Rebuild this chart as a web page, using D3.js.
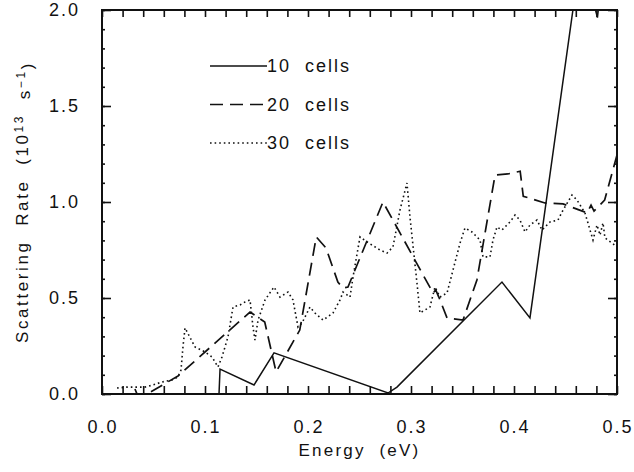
<!DOCTYPE html>
<html>
<head>
<meta charset="utf-8">
<script src="https://cdn.jsdelivr.net/npm/d3@7"></script>
<style>
  body { margin: 0; background: #fff; }
  text { font-family: "Liberation Sans", Arial, sans-serif; fill: #111; }
</style>
</head>
<body>
<div id="chart"></div>
<script>
// energy (eV) / scattering rate (10^13 s^-1)
var cells10E = [0.1136, 0.1146, 0.1476, 0.167, 0.2777, 0.2864, 0.3883, 0.4155, 0.465, 0.481, 0.49, 0.5];
var cells10R = [0, 0.13, 0.047, 0.214, 0.005, 0.036, 0.583, 0.396, 2.3, 1.96, 2.4, 2.6];

var cells20E = [0.032, 0.034, 0.0437, 0.0738, 0.1437, 0.158, 0.169, 0.192, 0.208, 0.2175, 0.229, 0.234, 0.2388,
    0.2728, 0.3214, 0.324, 0.327, 0.335, 0.3505, 0.364, 0.3816, 0.394, 0.406, 0.409, 0.43, 0.4476,
    0.471, 0.4748, 0.4777, 0.488, 0.5];
var cells20R = [0.026, 0, 0, 0.094, 0.427, 0.375, 0.115, 0.333, 0.818, 0.76, 0.583, 0.552, 0.557,
    1.0, 0.526, 0.542, 0.505, 0.396, 0.385, 0.594, 1.14, 1.146, 1.16, 1.03, 0.995, 0.99,
    0.943, 0.984, 0.953, 1.01, 1.245];

var cells30E = [0.0146, 0.0243, 0.0417, 0.0495, 0.0583, 0.068, 0.0738, 0.0767, 0.0786, 0.0806, 0.0903, 0.1,
    0.1068, 0.1126, 0.1165, 0.1223, 0.1272, 0.134, 0.1388, 0.1437, 0.1466, 0.1485, 0.1515, 0.1583,
    0.167, 0.1728, 0.1806, 0.1854, 0.1903, 0.1942, 0.2019, 0.2068, 0.2146, 0.2243, 0.2311, 0.234,
    0.2408, 0.2437, 0.2505, 0.2573, 0.2699, 0.2767, 0.2825, 0.2893, 0.2961, 0.299, 0.3058, 0.3087,
    0.3184, 0.3233, 0.3282, 0.335, 0.3408, 0.3476, 0.3524, 0.3592, 0.367, 0.3699, 0.3767, 0.3796,
    0.3835, 0.3883, 0.3961, 0.401, 0.4058, 0.4107, 0.4155, 0.4223, 0.4272, 0.435, 0.4427, 0.4476,
    0.4563, 0.4612, 0.4689, 0.4767, 0.4806, 0.4835, 0.4864, 0.4883, 0.4951, 0.5];
var cells30R = [0.031, 0.036, 0.036, 0.047, 0.0625, 0.073, 0.089, 0.125, 0.245, 0.344, 0.245, 0.219,
    0.193, 0.141, 0.193, 0.297, 0.453, 0.464, 0.479, 0.49, 0.349, 0.281, 0.385, 0.49,
    0.557, 0.505, 0.531, 0.49, 0.349, 0.37, 0.453, 0.422, 0.385, 0.422, 0.49, 0.531,
    0.505, 0.609, 0.818, 0.792, 0.75, 0.734, 0.766, 0.958, 1.099, 0.922, 0.578, 0.422,
    0.453, 0.557, 0.505, 0.526, 0.646, 0.786, 0.865, 0.844, 0.802, 0.714, 0.714, 0.802,
    0.87, 0.854, 0.896, 0.932, 0.906, 0.844, 0.88, 0.906, 0.854, 0.896, 0.906, 0.958,
    1.036, 1.01, 0.943, 0.802, 0.88, 0.828, 0.891, 0.813, 0.786, 0.766];

var seriesNames = ["10  cells", "20  cells", "30  cells"];
var xTickLabels = ["0.0", "0.1", "0.2", "0.3", "0.4", "0.5"];
var yTickLabels = ["0.0", "0.5", "1.0", "1.5", "2.0"];

var margin = { top: 10, right: 17, bottom: 78, left: 102 },
    width = 634 - margin.left - margin.right,
    height = 472 - margin.top - margin.bottom;

var svg = d3.select("#chart")
    .append("svg")
    .attr("width", 634)
    .attr("height", 472)
    .append("g")
    .attr("transform", "translate(" + margin.left + "," + margin.top + ")");

var x = d3.scaleLinear().domain([0, 0.5]).range([0, width]);
var y = d3.scaleLinear().domain([0, 2]).range([height, 0]);

svg.append("clipPath").attr("id", "clip")
    .append("rect").attr("width", width).attr("height", height);

function zip(es, rs) {
    return es.map(function(e, i) { return { e: e, r: rs[i] }; });
}

var line = d3.line()
    .x(function(d) { return x(d.e); })
    .y(function(d) { return y(d.r); });

var styles = [
    { dash: null, w: 1.5 },
    { dash: "13,7", w: 1.7 },
    { dash: "1.6,3", w: 1.6 }
];
var series = [zip(cells10E, cells10R), zip(cells20E, cells20R), zip(cells30E, cells30R)];

series.forEach(function(s, i) {
    svg.append("path")
        .datum(s)
        .attr("clip-path", "url(#clip)")
        .attr("fill", "none")
        .attr("stroke", "#111")
        .attr("stroke-width", styles[i].w)
        .attr("stroke-dasharray", styles[i].dash)
        .attr("d", line);
});

// ticks, inward on all four sides
var xMinor = d3.range(0, 0.5001, 0.02);
var yMinor = d3.range(0, 2.0001, 0.1);
var yMajor = d3.range(0, 2.0001, 0.5);

function tickAxis(axisFn, scale, vals, size) {
    return axisFn(scale).tickValues(vals).tickSize(size).tickFormat("");
}

svg.append("g").attr("transform", "translate(0," + height + ")")
    .call(tickAxis(d3.axisTop, x, xMinor, 8));
svg.append("g")
    .call(tickAxis(d3.axisBottom, x, xMinor, 7));
svg.append("g").call(tickAxis(d3.axisRight, y, yMinor, 3));
svg.append("g").call(tickAxis(d3.axisRight, y, yMajor, 9));
svg.append("g").attr("transform", "translate(" + width + ",0)")
    .call(tickAxis(d3.axisLeft, y, yMinor, 3));
svg.append("g").attr("transform", "translate(" + width + ",0)")
    .call(tickAxis(d3.axisLeft, y, yMajor, 9));
svg.selectAll(".domain").remove();
svg.selectAll(".tick line").attr("stroke", "#111").attr("stroke-width", 1.6);

// frame
svg.append("rect")
    .attr("width", width).attr("height", height)
    .attr("fill", "none").attr("stroke", "#111").attr("stroke-width", 2);

// tick labels
svg.selectAll(".xlab").data(xTickLabels).enter().append("text")
    .attr("x", function(d) { return x(+d) + 1; })
    .attr("y", height + 39)
    .attr("text-anchor", "middle")
    .style("font-size", "18px")
    .style("letter-spacing", "2px")
    .text(function(d) { return d; });

svg.selectAll(".ylab").data(yTickLabels).enter().append("text")
    .attr("x", -22)
    .attr("y", function(d) { return y(+d); })
    .attr("dy", "0.36em")
    .attr("text-anchor", "end")
    .style("font-size", "18px")
    .style("letter-spacing", "2px")
    .text(function(d) { return d; });

// axis titles
svg.append("text")
    .attr("x", width / 2)
    .attr("y", height + 62)
    .attr("text-anchor", "middle")
    .style("font-size", "17px")
    .style("letter-spacing", "2.2px")
    .style("white-space", "pre")
    .text("Energy  (eV)");

var yt = svg.append("text")
    .attr("transform", "translate(-74," + (height / 2) + ") rotate(-90)")
    .attr("text-anchor", "middle")
    .style("font-size", "17px")
    .style("letter-spacing", "2.6px")
    .style("white-space", "pre");
yt.append("tspan").text("Scattering  Rate  (10");
yt.append("tspan").attr("dy", "-0.45em").style("font-size", "12px").text("13");
yt.append("tspan").attr("dy", "0.45em").text("  s");
yt.append("tspan").attr("dy", "-0.45em").style("font-size", "12px").text("\u22121");
yt.append("tspan").attr("dy", "0.45em").text(")");

// legend
var legend = svg.append("g").attr("transform", "translate(108,56)");
seriesNames.forEach(function(name, i) {
    legend.append("line")
        .attr("x1", 0).attr("x2", 57)
        .attr("y1", i * 38.5).attr("y2", i * 38.5)
        .attr("stroke", "#111")
        .attr("stroke-width", styles[i].w)
        .attr("stroke-dasharray", styles[i].dash);
    legend.append("text")
        .attr("x", 57)
        .attr("y", i * 38.5)
        .attr("dy", "0.36em")
        .style("font-size", "18px")
        .style("letter-spacing", "2px")
        .style("white-space", "pre")
        .text(name);
});
</script>
</body>
</html>
